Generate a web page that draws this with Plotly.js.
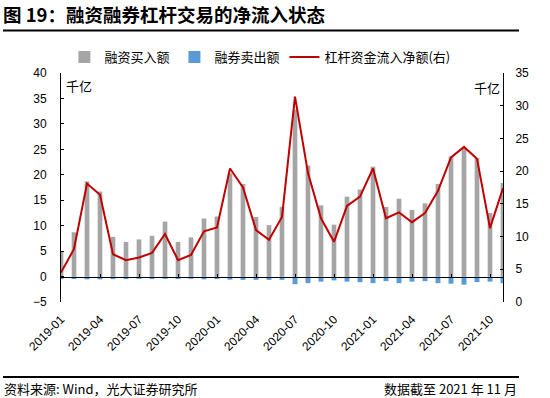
<!DOCTYPE html>
<html>
<head>
<meta charset="utf-8">
<script src="https://cdn.plot.ly/plotly-3.0.1.min.js"></script>
<style>html,body{margin:0;padding:0;background:#fff;}#chart{width:550px;height:398px;}</style>
</head>
<body>
<div id="chart"></div>
<script>
const months = [
  "2019-01","2019-02","2019-03","2019-04","2019-05","2019-06","2019-07","2019-08","2019-09","2019-10","2019-11","2019-12",
  "2020-01","2020-02","2020-03","2020-04","2020-05","2020-06","2020-07","2020-08","2020-09","2020-10","2020-11","2020-12",
  "2021-01","2021-02","2021-03","2021-04","2021-05","2021-06","2021-07","2021-08","2021-09","2021-10","2021-11"
];
const tickMonths = ["2019-01","2019-04","2019-07","2019-10","2020-01","2020-04","2020-07","2020-10","2021-01","2021-04","2021-07","2021-10"];

// 融资买入额 (千亿, left axis)
const marginBuy = [5.0,8.7,18.7,16.7,7.8,6.8,7.3,8.0,10.8,6.8,7.7,11.4,
  11.8,20.3,18.2,11.7,10.1,13.7,32.8,21.8,14.0,10.2,15.7,17.1,
  21.6,13.7,15.3,13.1,14.4,18.2,23.6,25.2,23.3,12.5,18.4];
// 融券卖出额 (千亿, left axis, shown negative)
const shortSell = [-0.5,-0.5,-0.55,-0.55,-0.5,-0.5,-0.45,-0.5,-0.45,-0.5,-0.45,-0.55,
  -0.5,-0.6,-0.65,-0.65,-0.65,-0.65,-1.5,-1.3,-1.0,-0.75,-1.0,-1.1,
  -1.3,-0.9,-1.3,-1.0,-0.9,-1.3,-1.4,-1.6,-1.1,-1.0,-1.3];
// 杠杆资金流入净额 (千亿, right axis)
const netInflow = [4.5,8.1,18.1,16.4,7.3,6.4,6.8,7.5,10.4,6.4,7.2,10.8,
  11.4,20.4,17.5,11.0,9.5,13.0,31.4,19.7,12.8,9.2,14.7,16.1,
  20.4,12.8,13.7,12.2,13.6,17.0,22.1,23.7,21.9,11.3,17.4];

const cjk = "Noto Sans CJK SC, sans-serif";
const num = "Liberation Sans, Arial, sans-serif";

const traces = [
  {type:"bar", name:"融资买入额", x:months, y:marginBuy, xaxis:"x", yaxis:"y",
   marker:{color:"#a5a5a5"}, width:0.36},
  {type:"bar", name:"融券卖出额", x:months, y:shortSell, xaxis:"x", yaxis:"y",
   marker:{color:"#5b9bd5"}, width:0.38},
  {type:"scatter", mode:"lines", name:"杠杆资金流入净额(右)", x:months, y:netInflow,
   xaxis:"x2", yaxis:"y2", line:{color:"#c00000", width:2}}
];

const layout = {
  width:550, height:398,
  margin:{l:61, r:47, t:73, b:96},
  paper_bgcolor:"#fff", plot_bgcolor:"rgba(0,0,0,0)",
  font:{family:num, size:12, color:"#000"},
  barmode:"relative",
  showlegend:true,
  legend:{orientation:"h", x:0.45, xanchor:"center", y:1.07, yanchor:"middle",
          font:{family:cjk, size:13, color:"#000"}, bgcolor:"rgba(0,0,0,0)", itemwidth:30},
  title:{text:"图 19：融资融券杠杆交易的净流入状态", x:3/550, xanchor:"left", xref:"container",
         y:1-16/398, yanchor:"middle", yref:"container",
         font:{family:cjk, size:18.5, weight:700, color:"#000"}},
  xaxis:{type:"category", range:[0,34], showline:false, ticks:"", showgrid:false, zeroline:false,
         tickmode:"array", tickvals:tickMonths, ticktext:tickMonths, tickangle:-45,
         ticklabelstandoff:7, tickfont:{family:num, size:12, color:"#000"}},
  xaxis2:{type:"category", overlaying:"x", matches:"x", anchor:"free", position:5/45,
          showline:true, linecolor:"#000", linewidth:1, showticklabels:false,
          ticks:"inside", ticklen:3, tickcolor:"#000", tickmode:"array", tickvals:tickMonths,
          showgrid:false, zeroline:false},
  yaxis:{range:[-5,40], tickvals:[-5,0,5,10,15,20,25,30,35,40], showgrid:false, zeroline:false,
         showline:true, linecolor:"#000", linewidth:1, ticks:"inside", ticklen:3, tickcolor:"#000",
         ticklabelstandoff:11, tickfont:{family:num, size:12, color:"#000"}},
  yaxis2:{range:[0,35], tickvals:[0,5,10,15,20,25,30,35], overlaying:"y", side:"right", anchor:"x2",
          showgrid:false, zeroline:false, showline:true, linecolor:"#000", linewidth:1,
          ticks:"inside", ticklen:3, tickcolor:"#000", ticklabelstandoff:9,
          tickfont:{family:num, size:12, color:"#000"}},
  shapes:[
    {type:"line", xref:"paper", yref:"paper", x0:(3-61)/442, x1:(519-61)/442,
     y0:(302-30.5)/229, y1:(302-30.5)/229, line:{color:"#000", width:2}},
    {type:"line", xref:"paper", yref:"paper", x0:(3-61)/442, x1:(519-61)/442,
     y0:(302-377)/229, y1:(302-377)/229, line:{color:"#000", width:2}}
  ],
  annotations:[
    {text:"千亿", xref:"paper", yref:"paper", x:(64-61)/442, xanchor:"left", y:(302-85)/229, yanchor:"middle",
     showarrow:false, font:{family:cjk, size:13, color:"#000"}},
    {text:"千亿", xref:"paper", yref:"paper", x:(502-61)/442, xanchor:"right", y:(302-87)/229, yanchor:"middle",
     showarrow:false, font:{family:cjk, size:13, color:"#000"}},
    {text:"资料来源: Wind，光大证券研究所", xref:"paper", yref:"paper", x:(2-61)/442, xanchor:"left",
     y:(302-388)/229, yanchor:"middle", showarrow:false, font:{family:cjk, size:13, color:"#000"}},
    {text:"数据截至 2021 年 11 月", xref:"paper", yref:"paper", x:(519-61)/442, xanchor:"right",
     y:(302-388)/229, yanchor:"middle", showarrow:false, font:{family:cjk, size:13, color:"#000"}}
  ]
};

Plotly.newPlot("chart", traces, layout, {displayModeBar:false, staticPlot:true});
</script>
</body>
</html>
